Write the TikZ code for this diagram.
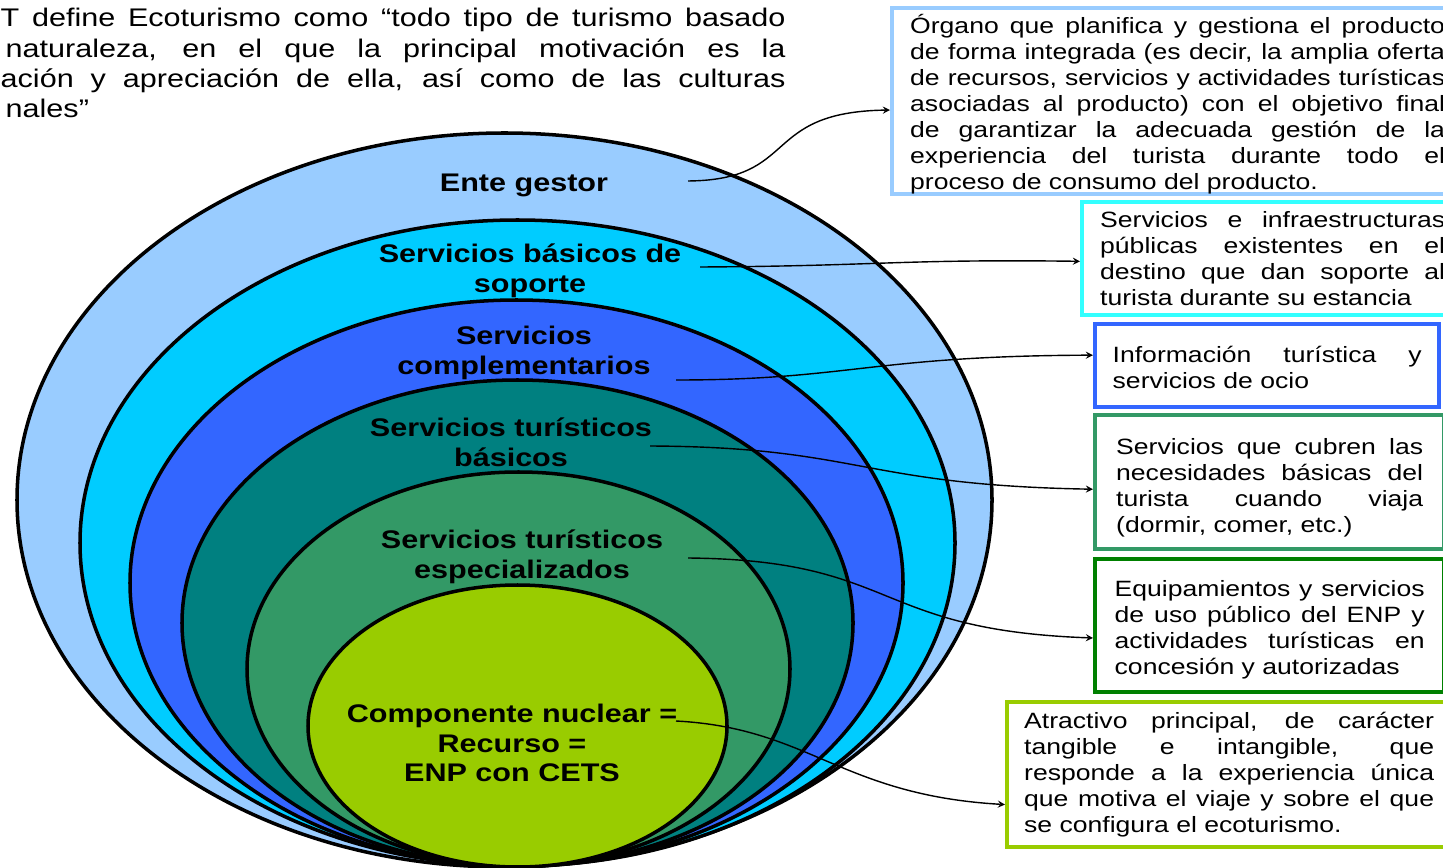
\documentclass[tikz,border=0pt]{standalone}
\usepackage{fontspec}
\setmainfont{Liberation Sans}[FakeStretch=1.2]
\usepackage{xcolor}
\usepackage{tikz}
\usetikzlibrary{positioning}

\definecolor{ringente}{HTML}{99CCFF}
\definecolor{ringsoporte}{HTML}{00CCFF}
\definecolor{ringcompl}{HTML}{3366FF}
\definecolor{ringbasic}{HTML}{008080}
\definecolor{ringespec}{HTML}{339966}
\definecolor{ringnucleo}{HTML}{99CC00}
\definecolor{boxaqua}{HTML}{33FFFF}
\definecolor{boxgreen}{HTML}{008000}

\newcommand{\jline}[1]{#1\linebreak}

\begin{document}
\begin{tikzpicture}[
	x=0.02cm, y=-0.02cm,
	thick,
	font=\fontsize{12.6}{14.8}\selectfont
]
\tikzset{
    ring/.style = {draw=black, line width=2pt},
    ringlabel/.style = {align=center, inner sep=0pt, font=\bfseries\fontsize{14.5}{17}\selectfont},
    infobox/.style = {rectangle, anchor=north west, align=justify, fill=white, line width=2.5pt, inner sep=0pt},
    link/.style = {->, >=stealth, line width=0.8pt}
}
\useasboundingbox (0,0) rectangle (1443,868);
\clip (0,0) rectangle (1443,868);

\node[anchor=base west, text width=15.7cm, align=justify, inner sep=0pt, font=\fontsize{14.5}{17.25}\selectfont] (intro) at (0,27)
  {\jline{T define Ecoturismo como “todo tipo de turismo basado}
   \hspace*{0.1cm}\jline{naturaleza, en el que la principal motivación es la}
   \jline{ación y apreciación de ella, así como de las culturas}
   \hspace*{0.1cm}nales”};

\draw[ring, fill=ringente]   (504.5,500) ellipse (487.5 and 367);
\draw[ring, fill=ringsoporte] (517.5,543) ellipse (437.5 and 323);
\draw[ring, fill=ringcompl]  (516.5,583) ellipse (386.5 and 283);
\draw[ring, fill=ringbasic]  (517.5,623) ellipse (335.5 and 243);
\draw[ring, fill=ringespec]  (518.5,669) ellipse (271.5 and 197);
\draw[ring, fill=ringnucleo] (517.5,726) ellipse (209.5 and 141);

\node[ringlabel] (ente) at (524,185) {Ente gestor};
\node[ringlabel] (soporte) at (530,271) {Servicios básicos de\\soporte};
\node[ringlabel] (compl) at (524,353) {Servicios\\complementarios};
\node[ringlabel] (basic) at (511,442) {Servicios turísticos\\básicos};
\node[ringlabel] (espec) at (522,557) {Servicios turísticos\\especializados};
\node[ringlabel] (nucleo) at (512,743) {Componente nuclear =\\Recurso =\\ENP con CETS};

\node[infobox, draw=ringente, text width=10.7cm, minimum width=11.42cm, minimum height=3.68cm] (b1) at (890,6)
  {\rule{0pt}{14.5pt}\jline{Órgano que planifica y gestiona el producto}
   \jline{de forma integrada (es decir, la amplia oferta}
   \jline{de recursos, servicios y actividades turísticas}
   \jline{asociadas al producto) con el objetivo final}
   \jline{de garantizar la adecuada gestión de la}
   \jline{experiencia del turista durante todo el}
   proceso de consumo del producto.\par\vspace*{-2.85pt}};
\node[infobox, draw=boxaqua, text width=6.9cm, minimum width=7.62cm, minimum height=2.26cm] (b2) at (1080,200)
  {\jline{Servicios e infraestructuras}
   \jline{públicas existentes en el}
   \jline{destino que dan soporte al}
   turista durante su estancia};
\node[infobox, draw=ringcompl, text width=6.18cm, minimum width=6.88cm, minimum height=1.66cm] (b3) at (1093,322)
  {\rule{0pt}{11pt}\jline{Información turística y}
   servicios de ocio};
\node[infobox, draw=ringespec, text width=6.14cm, minimum width=6.98cm, minimum height=2.68cm] (b4) at (1093,413)
  {\rule{0pt}{15pt}\jline{Servicios que cubren las}
   \jline{necesidades básicas del}
   \jline{turista cuando viaja}
   (dormir, comer, etc.)};
\node[infobox, draw=boxgreen, text width=6.2cm, minimum width=6.98cm, minimum height=2.66cm] (b5) at (1093,557)
  {\rule{0pt}{14pt}\jline{Equipamientos y servicios}
   \jline{de uso público del ENP y}
   \jline{actividades turísticas en}
   concesión y autorizadas};
\node[infobox, draw=ringnucleo, text width=8.2cm, minimum width=8.88cm, minimum height=2.9cm] (b6) at (1005,700)
  {\jline{Atractivo principal, de carácter}
   \jline{tangible e intangible, que}
   \jline{responde a la experiencia única}
   \jline{que motiva el viaje y sobre el que}
   se configura el ecoturismo.};

\coordinate (s1) at (688,181);
\coordinate (s2) at (700,267);
\coordinate (s3) at (676,380);
\coordinate (s4) at (650,446);
\coordinate (s5) at (688,558);
\coordinate (s6) at (676,721);

\draw[link] (s1) .. controls (800,180) and (760,112) .. ([yshift=-5pt]b1.west);
\draw[link] (s2) .. controls (880,266) and (900,259) .. ([yshift=-1.5pt]b2.west);
\draw[link] (s3) .. controls (850,380) and (870,356) .. ([yshift=6pt]b3.west);
\draw[link] (s4) .. controls (860,447) and (860,485) .. ([yshift=-4pt]b4.west);
\draw[link] (s5) .. controls (900,560) and (870,630) .. ([yshift=-7pt]b5.west);
\draw[link] (s6) .. controls (810,728) and (840,795) .. ([yshift=-17pt]b6.west);
\end{tikzpicture}
\end{document}
